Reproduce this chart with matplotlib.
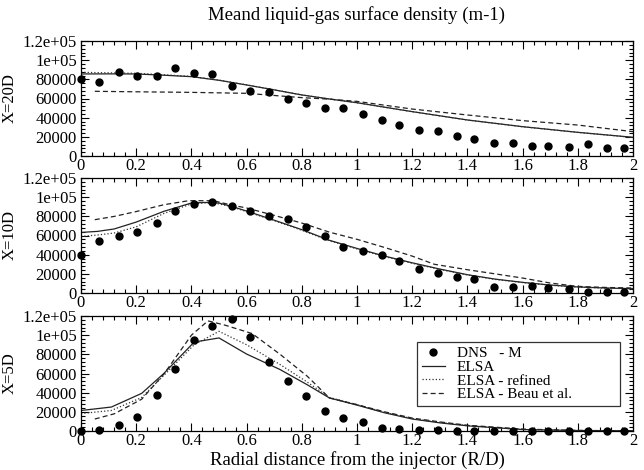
import matplotlib
matplotlib.use("Agg")
import matplotlib.pyplot as plt
from matplotlib.ticker import MultipleLocator, FixedLocator, FixedFormatter

plt.rcParams['font.family'] = ['Liberation Serif', 'DejaVu Serif']

# DNS - M (points), radial positions
dns_x = [0, 0.066, 0.138, 0.203, 0.274, 0.341, 0.411, 0.476, 0.548, 0.612,
         0.680, 0.750, 0.815, 0.884, 0.950, 1.020, 1.089, 1.151, 1.224, 1.292,
         1.361, 1.423, 1.495, 1.564, 1.634, 1.693, 1.768, 1.838, 1.907, 1.967]
dns_20 = [80000, 77600, 87700, 83800, 83800, 91500, 87000, 86000, 73400, 68200,
          66400, 59800, 55000, 50400, 49700, 43800, 37200, 32300, 26800, 26100,
          20900, 18100, 13900, 13900, 10800, 10400, 9700, 12200, 8300, 8000]
dns_10 = [40000, 53900, 59100, 63700, 73000, 85600, 92900, 95000, 90400, 85200,
          80000, 77200, 68900, 59100, 47700, 43600, 40000, 33000, 25500, 21000,
          16800, 14600, 6500, 6300, 7700, 5600, 4200, 1400, 700, 1000]
dns_5 = [300, 1400, 6200, 14100, 37200, 64800, 94800, 109600, 116500, 98600,
         72400, 52400, 36600, 20700, 13100, 9700, 3400, 2100, 1000, 600,
         500, 400, 300, 300, 300, 200, 200, 200, 200, 200]

# X = 20D
elsa_x_20 = [0, 0.1, 0.2, 0.3, 0.4, 0.5, 0.6, 0.7, 0.8, 0.9, 1.0, 1.2, 1.4, 1.6, 1.8, 2.0]
elsa_20 = [85600, 85700, 85600, 84300, 82800, 79000, 74100, 69000, 63700, 59500,
           55600, 46300, 37600, 30600, 24700, 19500]
refined_20 = [87300, 86800, 86300, 84800, 83000, 79200, 74300, 69100, 63800, 59500,
              55500, 46200, 37500, 30500, 24600, 19400]
beau_x_20 = [0.05, 0.2, 0.4, 0.6, 0.8, 0.9, 1.0, 1.2, 1.4, 1.6, 1.8, 2.0]
beau_20 = [67500, 67000, 66400, 65400, 60900, 59300, 57000, 49000, 42800, 36900, 32300, 25400]

# X = 10D
elsa_x_10 = [0, 0.06, 0.12, 0.2, 0.3, 0.4, 0.45, 0.5, 0.55, 0.6, 0.7, 0.8, 0.9,
             1.0, 1.1, 1.2, 1.3, 1.4, 1.5, 1.6, 1.7, 1.8, 1.9, 2.0]
elsa_10 = [63200, 64300, 66800, 74000, 85200, 93900, 94500, 93900, 90000, 85500,
           76000, 66100, 55000, 46500, 38500, 31500, 25000, 19100, 14500, 11100,
           8300, 6300, 5200, 4500]
refined_10 = [59100, 60500, 62600, 69000, 83000, 93000, 94000, 93000, 89500, 85000,
              75500, 65500, 54500, 46000, 38000, 31000, 24600, 18800, 14200, 10900,
              8100, 6200, 5100, 4400]
beau_x_10 = [0.05, 0.12, 0.2, 0.3, 0.39, 0.48, 0.54, 0.6, 0.7, 0.8, 0.9, 1.0, 1.1,
             1.2, 1.28, 1.4, 1.5, 1.6, 1.7, 1.8, 1.9, 2.0]
beau_10 = [76500, 79900, 85000, 92100, 96300, 96300, 92100, 88700, 81000, 73000,
           63500, 56000, 47500, 38500, 30000, 24300, 20000, 15600, 10400, 6900,
           5800, 5200]

# X = 5D
elsa_x_5 = [0, 0.11, 0.22, 0.3, 0.41, 0.5, 0.6, 0.72, 0.82, 0.9, 1.0, 1.1, 1.2,
            1.3, 1.4, 1.6, 1.8, 2.0]
elsa_5 = [21400, 25000, 39300, 60000, 92800, 97100, 80300, 64300, 48200, 34500,
          27000, 19000, 12500, 8500, 5400, 1500, 500, 200]
refined_5 = [18200, 21400, 35000, 58000, 90000, 104000, 90000, 69600, 51000, 35000,
             27500, 19500, 13000, 9000, 5600, 1600, 500, 200]
beau_x_5 = [0.05, 0.12, 0.22, 0.3, 0.4, 0.46, 0.52, 0.62, 0.72, 0.82, 0.9, 1.0,
            1.1, 1.2, 1.3, 1.4, 1.6, 1.8, 2.0]
beau_5 = [12500, 17900, 33200, 59300, 100000, 114900, 110600, 101700, 80300, 57100,
          34500, 27500, 20000, 13500, 9500, 6000, 2000, 600, 200]

panel_labels = ["X=20D", "X=10D", "X=5D"]
y_ticks = [0, 20000, 40000, 60000, 80000, 100000, 120000]
y_tick_labels = ["0", "20000", "40000", "60000", "80000", "1e+05", "1.2e+05"]
x_ticks = [0, 0.2, 0.4, 0.6, 0.8, 1.0, 1.2, 1.4, 1.6, 1.8, 2.0]
x_tick_labels = ["0", "0.2", "0.4", "0.6", "0.8", "1", "1.2", "1.4", "1.6", "1.8", "2"]

panels = [
    (dns_20, elsa_x_20, elsa_20, refined_20, beau_x_20, beau_20),
    (dns_10, elsa_x_10, elsa_10, refined_10, beau_x_10, beau_10),
    (dns_5, elsa_x_5, elsa_5, refined_5, beau_x_5, beau_5),
]

fig = plt.figure(figsize=(6.44, 4.70), dpi=100)
W, H = 644, 470
left, right = 81, 633
tops = [41, 178, 316]
bottoms = [156, 293, 431]

axes = []
for i, (dns, ex, ey, ry, bx, by) in enumerate(panels):
    ax = fig.add_axes([left / W, 1 - bottoms[i] / H, (right - left) / W,
                       (bottoms[i] - tops[i]) / H])
    ax.plot(dns_x, dns, 'o', color='black', markersize=5, clip_on=False,
            label="DNS   - M", zorder=5)
    ax.plot(ex, ey, '-', color='#222222', lw=0.9, label="ELSA")
    ax.plot(ex, ry, ':', color='#333333', lw=0.9, label="ELSA - refined")
    ax.plot(bx, by, '--', color='#222222', lw=0.9, dashes=(4, 2.5),
            label="ELSA - Beau et al.")

    ax.set_xlim(0, 2)
    ax.set_ylim(0, 120000)
    ax.xaxis.set_major_locator(FixedLocator(x_ticks))
    ax.xaxis.set_major_formatter(FixedFormatter(x_tick_labels))
    ax.xaxis.set_minor_locator(MultipleLocator(0.04))
    ax.yaxis.set_major_locator(FixedLocator(y_ticks))
    ax.yaxis.set_major_formatter(FixedFormatter(y_tick_labels))
    ax.yaxis.set_minor_locator(MultipleLocator(4000))
    ax.tick_params(which='both', direction='in', top=True, right=True,
                   labelsize=12, width=0.8)
    ax.tick_params(axis='x', pad=1.5)
    ax.tick_params(axis='y', pad=3)
    ax.tick_params(which='major', length=6)
    ax.tick_params(which='minor', length=3)
    for s in ax.spines.values():
        s.set_linewidth(0.9)
    ax.set_ylabel(panel_labels[i], fontsize=12)
    ax.yaxis.set_label_coords(-0.115, 0.5)
    axes.append(ax)

axes[2].set_xlabel("Radial distance from the injector (R/D)", fontsize=13.5)
axes[2].xaxis.set_label_coords(0.5, -0.175)

leg = axes[2].legend(loc='upper left', bbox_to_anchor=(0.609, 0.235, 0.367, 0.539),
                     mode='expand', fontsize=11, frameon=True, fancybox=False,
                     edgecolor='black', handlelength=1.5, labelspacing=0.0,
                     borderpad=0.3, handletextpad=0.8, borderaxespad=0)
leg.get_frame().set_linewidth(0.9)

fig.text(357 / W, 1 - 15 / H, "Meand liquid-gas surface density (m-1)",
         ha='center', va='center', fontsize=13.5)

fig.savefig("out.png", dpi=100)
